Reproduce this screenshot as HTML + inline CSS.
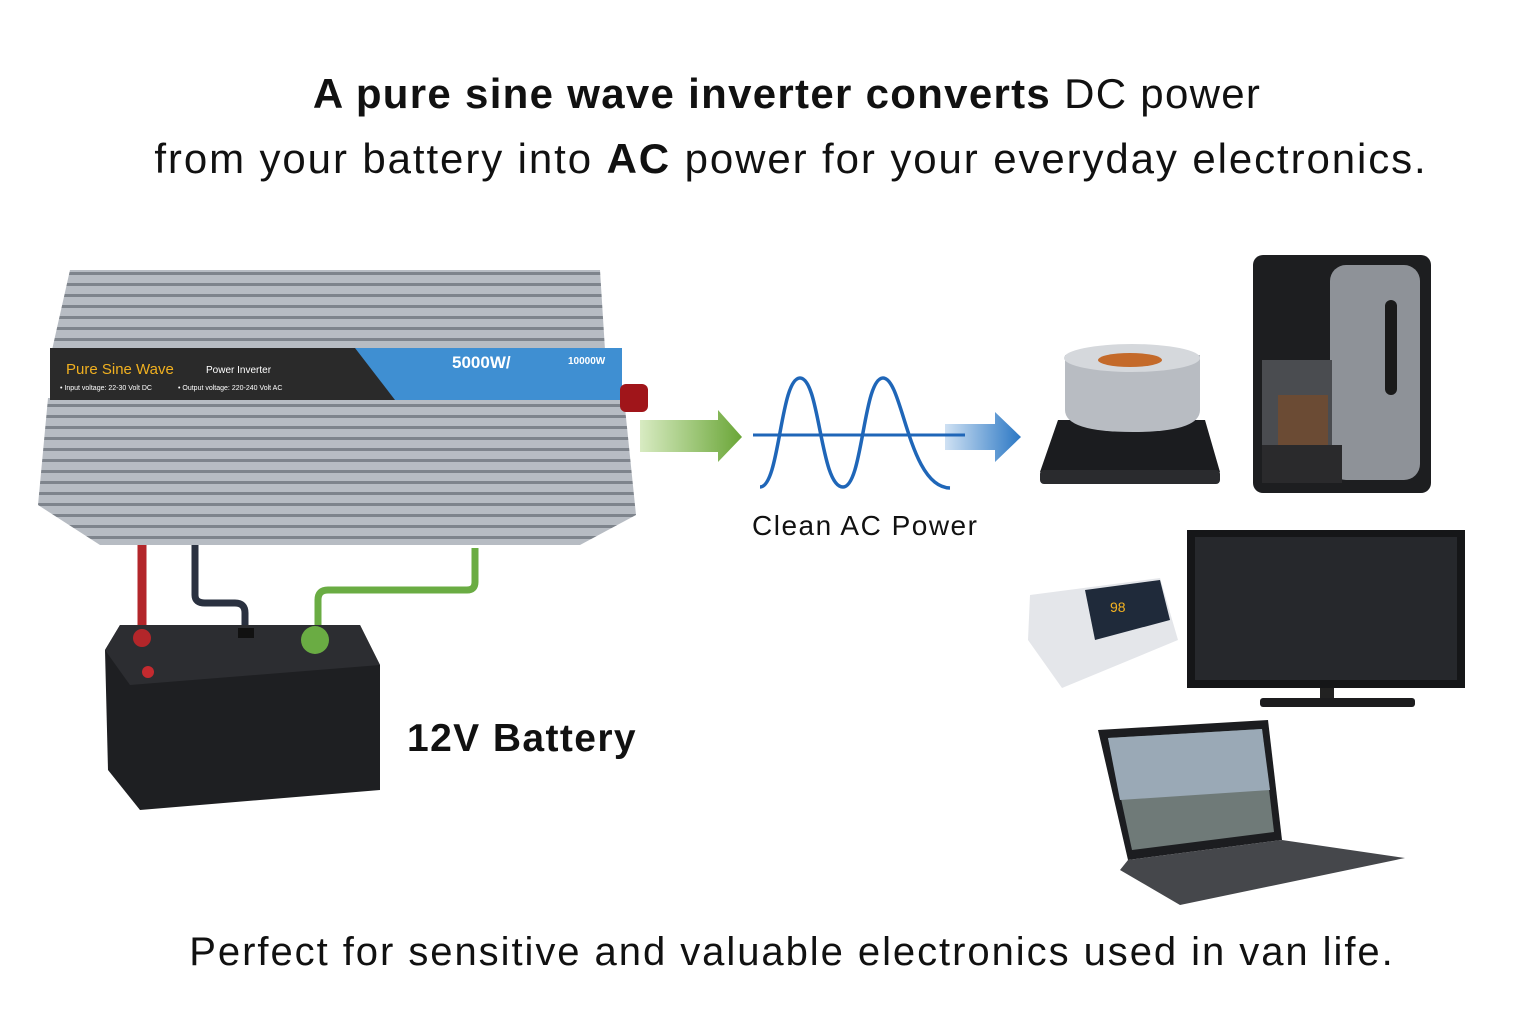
<!DOCTYPE html>
<html><head><meta charset="utf-8"><style>
html,body{margin:0;padding:0;background:#fff;}
body{width:1536px;height:1024px;position:relative;overflow:hidden;font-family:"Liberation Sans","DejaVu Sans",sans-serif;color:#111;}
.t{position:absolute;white-space:nowrap;}
</style></head><body>
<div class="t" style="left:0;width:1574px;text-align:center;top:70px;font-size:42px;letter-spacing:1.3px"><b>A pure sine wave inverter converts</b> DC power</div>
<div class="t" style="left:0;width:1582px;text-align:center;top:135px;font-size:42px;letter-spacing:1.9px">from your battery into <b>AC</b> power for your everyday electronics.</div>

<svg width="1536" height="1024" style="position:absolute;left:0;top:0">
<defs>
<linearGradient id="ga" x1="0" x2="1"><stop offset="0" stop-color="#d8ebc2"/><stop offset="1" stop-color="#6aa637"/></linearGradient>
<linearGradient id="ba" x1="0" x2="1"><stop offset="0" stop-color="#cfe1f3"/><stop offset="1" stop-color="#2a77c4"/></linearGradient>
<pattern id="rib" width="10" height="11" patternUnits="userSpaceOnUse"><rect width="10" height="11" fill="#b7bcc3"/><rect y="8" width="10" height="3" fill="#7e848c"/></pattern>
</defs>
<polygon points="70,270 600,270 605,350 52,350" fill="url(#rib)"/>
<polygon points="48,398 624,398 636,515 580,545 100,545 38,505" fill="url(#rib)"/>
<rect x="50" y="348" width="572" height="52" fill="#2a2a2a"/>
<polygon points="355,348 622,348 622,400 395,400" fill="#3f8fd2"/>
<text x="66" y="374" font-size="15" fill="#f0b020">Pure Sine Wave</text>
<text x="206" y="373" font-size="10" fill="#fff">Power Inverter</text>
<text x="60" y="390" font-size="7" fill="#fff">• Input voltage: 22-30 Volt DC</text>
<text x="178" y="390" font-size="7" fill="#fff">• Output voltage: 220-240 Volt AC</text>
<text x="452" y="368" font-size="17" font-weight="bold" fill="#fff">5000W/</text>
<text x="568" y="364" font-size="10" font-weight="bold" fill="#fff">10000W</text>
<rect x="620" y="384" width="28" height="28" rx="6" fill="#a0151a"/>
<path d="M142,545 V635" stroke="#b3262a" stroke-width="9" fill="none"/>
<path d="M195,545 V595 Q195,603 205,603 H235 Q245,603 245,613 V632" stroke="#2a3140" stroke-width="7" fill="none"/>
<path d="M475,548 V582 Q475,590 467,590 H328 Q318,590 318,600 V632" stroke="#6aac43" stroke-width="7" fill="none"/>
<polygon points="120,625 360,625 380,665 380,790 140,810 108,770 105,650" fill="#1e1f22"/>
<polygon points="120,625 360,625 380,665 130,685 105,650" fill="#2c2d31"/>
<circle cx="142" cy="638" r="9" fill="#b3262a"/><circle cx="148" cy="672" r="6" fill="#c42a2f"/>
<circle cx="315" cy="640" r="14" fill="#6aac43"/><rect x="238" y="628" width="16" height="10" fill="#111"/>
<polygon points="640,420 718,420 718,410 742,437 718,462 718,452 640,452" fill="url(#ga)"/>
<polygon points="945,424 995,424 995,412 1021,437 995,462 995,450 945,450" fill="url(#ba)"/>
<line x1="753" y1="435" x2="965" y2="435" stroke="#1f66b8" stroke-width="3"/>
<path d="M760,487 C780,487 780,378 800,378 C820,378 820,487 843,487 C863,487 863,378 883,378 C903,378 908,487 950,488" stroke="#1f66b8" stroke-width="3.5" fill="none"/>
<polygon points="1058,420 1205,420 1220,472 1040,472" fill="#1b1c1f"/>
<rect x="1040" y="470" width="180" height="14" rx="4" fill="#2a2b2e"/>
<path d="M1065,355 h135 v55 q0,22 -67,22 q-68,0 -68,-22z" fill="#b8bcc2"/>
<ellipse cx="1132" cy="358" rx="68" ry="14" fill="#d5d8dc"/><ellipse cx="1130" cy="360" rx="32" ry="7" fill="#c46a2a"/>
<rect x="1253" y="255" width="178" height="238" rx="10" fill="#1d1e20"/>
<rect x="1330" y="265" width="90" height="215" rx="16" fill="#8e9298"/>
<rect x="1385" y="300" width="12" height="95" rx="6" fill="#1a1a1a"/>
<path d="M1262,360 h70 v85 q-35,15 -70,0z" fill="#4a4c50"/><rect x="1278" y="395" width="50" height="50" fill="#6b4b34"/>
<rect x="1262" y="445" width="80" height="38" fill="#2a2a2c"/>
<polygon points="1030,595 1160,578 1178,640 1062,688 1028,640" fill="#e4e6ea"/>
<polygon points="1085,590 1160,580 1170,620 1095,640" fill="#1f2a3a"/>
<text x="1110" y="612" font-size="14" fill="#f4b321">98</text>
<rect x="1187" y="530" width="278" height="158" fill="#151618"/>
<rect x="1195" y="537" width="262" height="143" fill="#26282c"/>
<rect x="1320" y="688" width="14" height="10" fill="#222"/><rect x="1260" y="698" width="155" height="9" rx="3" fill="#1c1c1e"/>
<polygon points="1098,730 1268,720 1282,840 1128,860" fill="#1c1d20"/>
<polygon points="1108,738 1262,729 1274,832 1132,850" fill="#6f7a78"/>
<polygon points="1108,738 1262,729 1270,790 1120,800" fill="#9aa9b6"/>
<polygon points="1128,860 1282,840 1405,858 1180,905 1120,870" fill="#45474b"/>
</svg>

<div class="t" style="left:752px;top:510px;font-size:28px;letter-spacing:1.5px">Clean AC Power</div>
<div class="t" style="left:407px;top:717px;font-size:39px;font-weight:bold;letter-spacing:1.4px">12V Battery</div>
<div class="t" style="left:0;width:1584px;text-align:center;top:930px;font-size:40px;letter-spacing:1.95px">Perfect for sensitive and valuable electronics used in van life.</div>
</body></html>
